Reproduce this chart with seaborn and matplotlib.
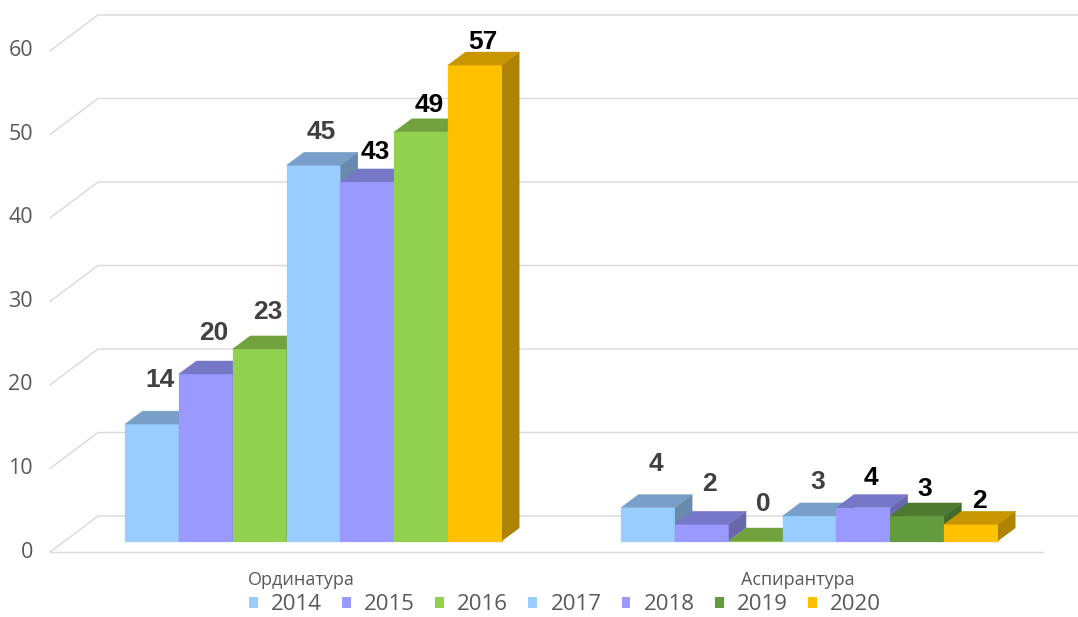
import numpy as np
import pandas as pd
import matplotlib
matplotlib.use("Agg")
import matplotlib.pyplot as plt
import seaborn as sns
from matplotlib.patches import Polygon, Patch
from matplotlib.colors import to_rgb

# data
categories = ['Ординатура', 'Аспирантура']
years = ['2014', '2015', '2016', '2017', '2018', '2019', '2020']
ordinatura = [14, 20, 23, 45, 43, 49, 57]
aspirantura = [4, 2, 0, 3, 4, 3, 2]

# series colours (Excel-like)
palette = {'2014': '#99CCFF', '2015': '#9999FF', '2016': '#92D050', '2017': '#99CCFF',
           '2018': '#9999FF', '2019': '#639B3F', '2020': '#FFC000'}
label_colors = ['#404040', '#404040', '#404040', '#404040', '#000000', '#000000', '#000000']

df = pd.DataFrame({
    'level': [categories[0]] * len(years) + [categories[1]] * len(years),
    'year': years + years,
    'count': ordinatura + aspirantura,
})

W, H = 1078, 617
sns.set_style('white')
fig = plt.figure(figsize=(W / 100, H / 100), dpi=100)
ax = fig.add_axes([40 / W, (H - 560) / H, (W - 40) / W, (560 - 8) / H])

sns.barplot(data=df, x='level', y='count', hue='year', order=categories, hue_order=years,
            palette=palette, width=0.76, gap=0, saturation=1, errorbar=None,
            legend=False, linewidth=0, ax=ax)

ax.set_xlim(-0.5514, 1.5413)
ax.set_ylim(-2.275, 63.83)
ax.set_axis_off()


def img2data(px, py):
    return ax.transData.inverted().transform((px, H - py))


def data2img(x, y):
    X, Y = ax.transData.transform((x, y))
    return X, H - Y


GRID = '#D9D9D9'
TXT = '#595959'

# back wall grid with the diagonal "floor" edges
for v in range(0, 61, 10):
    yv = data2img(0, v)[1]
    fy, by = yv + 11, yv - 25
    pts = [img2data(50, fy), img2data(98, by), img2data(W, by)]
    ax.plot([p[0] for p in pts], [p[1] for p in pts], color=GRID, lw=1.0,
            zorder=0.5, clip_on=False)
    tx, ty = img2data(33, fy)
    ax.text(tx, ty, str(v), ha='right', va='center', fontsize=15.5,
            family='Open Sans', color=TXT)

y0 = data2img(0, 0)[1] + 11
p1, p2 = img2data(50, y0), img2data(1043, y0)
ax.plot([p1[0], p2[0]], [p1[1], p2[1]], color=GRID, lw=1.0, zorder=0.5, clip_on=False)

# bar depth in data units
sx = data2img(1, 0)[0] - data2img(0, 0)[0]
sy = data2img(0, 0)[1] - data2img(0, 1)[1]
DX, DY = 17.5 / sx, 13 / sy

bars = []
for hi, cont in enumerate(ax.containers):
    for bar in cont:
        ci = int(round(bar.get_x() + bar.get_width() / 2))
        bars.append((bar, hi, ci))
bars.sort(key=lambda b: b[0].get_x())

for k, (bar, hi, ci) in enumerate(bars):
    if ci == 0 and years[hi] == '2019':
        bar.set_facecolor(palette['2016'])
    x0, w, h = bar.get_x(), bar.get_width(), bar.get_height()
    col = np.array(to_rgb(bar.get_facecolor()))
    z = 2 + k * 0.01
    bar.set_zorder(z)
    bar.set_edgecolor(col)
    bar.set_linewidth(0.9)
    top = Polygon([(x0, h), (x0 + w, h), (x0 + w + DX, h + DY), (x0 + DX, h + DY)],
                  closed=True, facecolor=col * 0.78, edgecolor=col * 0.78, lw=0.3, zorder=z + 0.003)
    side = Polygon([(x0 + w, 0), (x0 + w + DX, DY), (x0 + w + DX, h + DY), (x0 + w, h)],
                   closed=True, facecolor=col * 0.68, edgecolor='none', lw=0, zorder=z + 0.006)
    ax.add_patch(top)
    ax.add_patch(side)

    cx = data2img(x0 + w / 2, h)[0] + 8
    cy = data2img(0, h)[1] - 13 - (24 - 3.5 * hi)
    lx, ly = img2data(cx, cy)
    ax.text(lx, ly, f'{h:.0f}', ha='center', va='baseline', fontsize=19,
            fontweight='bold', family='Liberation Sans', color=label_colors[hi], zorder=10)

for ci, name in enumerate(categories):
    cx = data2img(ci, 0)[0] - 12
    lx, ly = img2data(cx, 580)
    ax.text(lx, ly, name, ha='center', va='center', fontsize=13,
            family='Open Sans', color=TXT)

handles = [Patch(facecolor=palette[y], edgecolor='none') for y in years]
fig.legend(handles, years, loc='center', bbox_to_anchor=(565 / W, 1 - 605 / H), ncol=7,
           frameon=False, handlelength=0.4, handleheight=0.4, handletextpad=0.6,
           columnspacing=0.9, prop={'family': 'Open Sans', 'size': 16}, labelcolor=TXT,
           borderaxespad=0, borderpad=0)

fig.savefig('out.png', dpi=100)
